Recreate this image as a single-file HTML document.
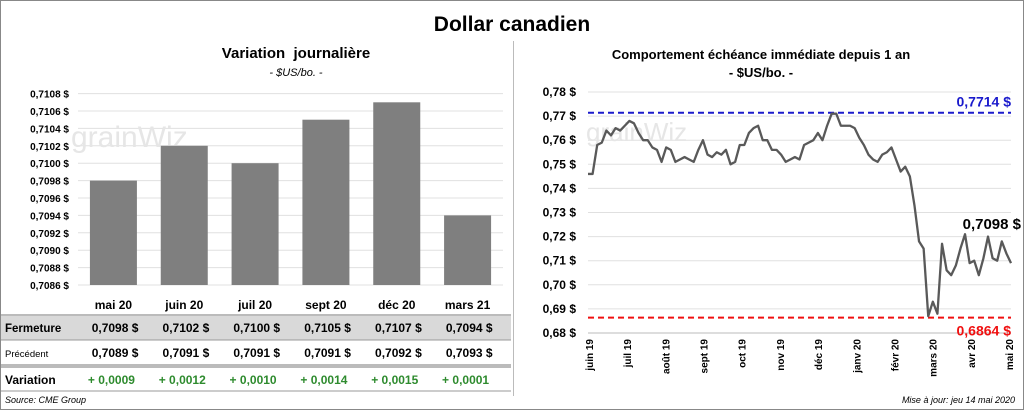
<!DOCTYPE html>
<html><head><meta charset="utf-8">
<style>
body{margin:0;background:#fff;font-family:"Liberation Sans",sans-serif;}
#wrap{position:relative;width:1022px;height:408px;border:1px solid #888;overflow:hidden;background:#fff;}
.t{position:absolute;white-space:nowrap;}
</style></head><body>
<div id="wrap">
<div class="t" style="left:0;width:1022px;top:12px;text-align:center;font-size:21px;font-weight:bold;">Dollar canadien</div>
<div class="t" style="left:80px;width:430px;top:44px;text-align:center;font-size:15px;font-weight:bold;">Variation&nbsp; journalière</div>
<div class="t" style="left:80px;width:430px;top:66px;text-align:center;font-size:11px;font-style:italic;">- $US/bo. -</div>
<div class="t" style="left:560px;width:400px;top:46px;text-align:center;font-size:13px;font-weight:bold;">Comportement échéance immédiate depuis 1 an</div>
<div class="t" style="left:560px;width:400px;top:64px;text-align:center;font-size:13px;font-weight:bold;">- $US/bo. -</div>
<div style="position:absolute;left:512px;top:40px;width:1px;height:355px;background:#bbb;"></div>
<svg id="svg" width="1022" height="408" style="position:absolute;left:0;top:0"></svg>
<div class="t" style="left:4px;top:394px;font-size:9px;font-style:italic;">Source: CME Group</div>
<div class="t" style="right:8px;top:394px;font-size:9px;font-style:italic;">Mise à jour: jeu 14 mai 2020</div>
</div>
<script>
const barCats=["mai 20","juin 20","juil 20","sept 20","déc 20","mars 21"];
const closeVals=[0.7098,0.7102,0.7100,0.7105,0.7107,0.7094];
const prevVals=[0.7089,0.7091,0.7091,0.7091,0.7092,0.7093];
const varVals=[0.0009,0.0012,0.0010,0.0014,0.0015,0.0001];
const leftTicks=[0.7086,0.7088,0.7090,0.7092,0.7094,0.7096,0.7098,0.7100,0.7102,0.7104,0.7106,0.7108];
const lineVals=[0.746,0.746,0.758,0.759,0.764,0.762,0.765,0.764,0.766,0.768,0.767,0.763,0.760,0.760,0.757,0.756,0.751,0.757,0.756,0.751,0.752,0.753,0.752,0.751,0.756,0.760,0.754,0.753,0.755,0.754,0.756,0.750,0.751,0.758,0.758,0.763,0.765,0.766,0.760,0.760,0.756,0.756,0.754,0.751,0.752,0.753,0.752,0.758,0.759,0.760,0.763,0.760,0.766,0.771,0.771,0.766,0.766,0.766,0.765,0.761,0.758,0.754,0.752,0.751,0.754,0.755,0.757,0.752,0.747,0.749,0.745,0.733,0.718,0.715,0.687,0.693,0.688,0.717,0.706,0.704,0.708,0.715,0.721,0.709,0.710,0.704,0.711,0.720,0.711,0.710,0.718,0.713,0.709];
const rightTicks=[0.68,0.69,0.70,0.71,0.72,0.73,0.74,0.75,0.76,0.77,0.78];
const monthLabels=["juin 19","juil 19","août 19","sept 19","oct 19","nov 19","déc 19","janv 20","févr 20","mars 20","avr 20","mai 20"];
const hiVal=0.7714, loVal=0.6864, lastVal=0.7098;

const NS="http://www.w3.org/2000/svg";
const svg=document.getElementById('svg');
function mk(tag,attrs,parent){const e=document.createElementNS(NS,tag);for(const k in attrs)e.setAttribute(k,attrs[k]);(parent||svg).appendChild(e);return e;}
const fmt=(v,d)=>v.toFixed(d).replace('.',',');

// left chart
const lx0=77,lx1=502,ly=v=>284-(v-0.7086)/0.0002*17.4;
leftTicks.forEach(t=>{
 const g=mk('line',{x1:lx0,x2:lx1,y1:ly(t),y2:ly(t),stroke:'#e0e0e0'});
 
 const tx=mk('text',{x:68,y:ly(t)+4,'text-anchor':'end','font-size':10,'font-weight':'bold','font-family':'Liberation Sans'});
 tx.textContent=fmt(t,4)+' $';
 
});
const wm1=mk('text',{x:70,y:146,'font-size':30,fill:'#e6e6e6','font-family':'Liberation Sans'});wm1.textContent='grainWiz';

const step=(lx1-lx0)/barCats.length;
barCats.forEach((c,i)=>{
 const cx=lx0+step*(i+0.5);
 const b=mk('rect',{x:cx-23.5,y:ly(closeVals[i]),width:47,height:284-ly(closeVals[i]),fill:'#7f7f7f'});
 
 const l=mk('text',{x:cx,y:308,'text-anchor':'middle','font-size':12,'font-weight':'bold','font-family':'Liberation Sans'});l.textContent=c;
 
});
// table
const tr=mk('rect',{x:0,y:315,width:510,height:24,fill:'#d9d9d9'});

[[314,'#777'],[339,'#999'],[364,'#777'],[366,'#777'],[390,'#999']].forEach(([y,c])=>{const l=mk('line',{x1:0,x2:510,y1:y,y2:y,stroke:c});
 });
function rowLabel(t,y,size,bold){const e=mk('text',{x:4,y:y,'font-size':size,'font-weight':bold?'bold':'normal','font-family':'Liberation Sans'});e.textContent=t;
 }
rowLabel('Fermeture',331,11.5,true);rowLabel('Précédent',356,9.5,false);rowLabel('Variation',383,12,true);
barCats.forEach((c,i)=>{
 const cx=lx0+step*(i+0.5);
 const a=mk('text',{x:cx+25,y:331,'text-anchor':'end','font-size':12,'font-weight':'bold','font-family':'Liberation Sans'});a.textContent=fmt(closeVals[i],4)+'  $';
 
 const p=mk('text',{x:cx+25,y:356,'text-anchor':'end','font-size':12,'font-weight':'bold','font-family':'Liberation Sans'});p.textContent=fmt(prevVals[i],4)+'  $';
 
 const v=mk('text',{x:cx-2,y:383,'text-anchor':'middle','font-size':12,'font-weight':'bold',fill:'#2e8b2e','font-family':'Liberation Sans'});v.textContent='+ '+fmt(varVals[i],4);
 
});

// right chart
const rx0=587,rx1=1010,ry=v=>332-(v-0.68)/0.01*24.1;
rightTicks.forEach(t=>{
 const g=mk('line',{x1:rx0,x2:rx1,y1:ry(t),y2:ry(t),stroke:'#e0e0e0'});
 
 const tx=mk('text',{x:575,y:ry(t)+4,'text-anchor':'end','font-size':12,'font-weight':'bold','font-family':'Liberation Sans'});tx.textContent=fmt(t,2)+' $';
 
});
const wm2=mk('text',{x:585,y:140,'font-size':26,fill:'#e6e6e6','font-family':'Liberation Sans'});wm2.textContent='grainWiz';

const ax=mk('line',{x1:rx0,x2:rx1,y1:332,y2:332,stroke:'#bbb'});
const hl=mk('line',{x1:rx0,x2:rx1,y1:ry(hiVal),y2:ry(hiVal),stroke:'#1a1acc','stroke-width':2,'stroke-dasharray':'6,4'});

const ll=mk('line',{x1:rx0,x2:rx1,y1:ry(loVal),y2:ry(loVal),stroke:'#f01010','stroke-width':2,'stroke-dasharray':'6,4'});

const ht=mk('text',{x:1010,y:ry(hiVal)-6,'text-anchor':'end','font-size':14,'font-weight':'bold',fill:'#1a1acc','font-family':'Liberation Sans'});ht.textContent=fmt(hiVal,4)+'  $';

const lt=mk('text',{x:1010,y:ry(loVal)+18,'text-anchor':'end','font-size':14,'font-weight':'bold',fill:'#f01010','font-family':'Liberation Sans'});lt.textContent=fmt(loVal,4)+'  $';

const n=lineVals.length,lxp=i=>rx0+(rx1-rx0)*i/(n-1);
const pl=mk('polyline',{points:lineVals.map((v,i)=>lxp(i)+','+ry(v)).join(' '),fill:'none',stroke:'#595959','stroke-width':2.3,'stroke-linejoin':'round'});

const lastT=mk('text',{x:1020,y:ry(lastVal)-32,'text-anchor':'end','font-size':15,'font-weight':'bold','font-family':'Liberation Sans'});lastT.textContent=fmt(lastVal,4)+' $';

monthLabels.forEach((m,i)=>{
 const x=rx0+1+(rx1-rx0-3)*i/(monthLabels.length-1);
 const t=mk('text',{x:x+4,y:338,'text-anchor':'end','font-size':10,'font-weight':'bold','font-family':'Liberation Sans',transform:`rotate(-90 ${x+4} 338)`});t.textContent=m;
 
});
</script>
</body></html>
